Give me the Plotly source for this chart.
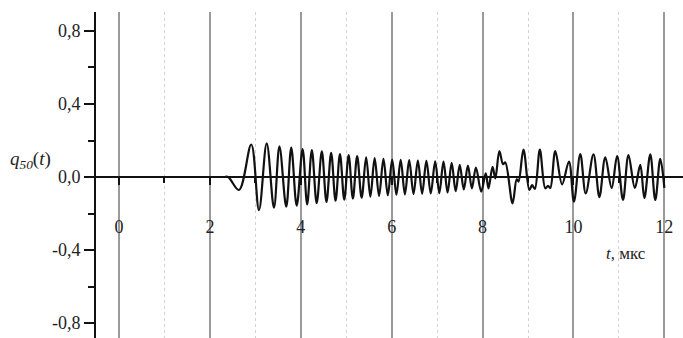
import plotly.graph_objects as go

# q50(t) response: turning points (t in microseconds, q dimensionless)
onset_t = [0.0, 2.30, 2.40, 2.64, 2.91, 3.08, 3.25, 3.41, 3.53, 3.68, 3.79, 3.91, 4.04]
onset_q = [0.0, 0.0, 0.0, -0.071, 0.178, -0.181, 0.184, -0.168, 0.168, -0.163, 0.161, -0.157, 0.153]

ring_t = [4.14, 4.243, 4.35, 4.463, 4.565, 4.668, 4.765, 4.862, 4.957, 5.053,
          5.146, 5.240, 5.339, 5.438, 5.531, 5.625, 5.722, 5.819, 5.915, 6.011,
          6.104, 6.198, 6.291, 6.385, 6.480, 6.576, 6.670, 6.764, 6.860, 6.957,
          7.048, 7.140, 7.230, 7.320, 7.408, 7.497, 7.587, 7.677, 7.765, 7.853]
ring_q = [-0.150, 0.148, -0.143, 0.140, -0.137, 0.132, -0.130, 0.125, -0.124, 0.120,
          -0.118, 0.114, -0.113, 0.108, -0.108, 0.103, -0.104, 0.099, -0.100, 0.096,
          -0.097, 0.094, -0.095, 0.092, -0.093, 0.090, -0.091, 0.088, -0.090, 0.086,
          -0.088, 0.084, -0.085, 0.078, -0.078, 0.066, -0.068, 0.062, -0.062, 0.052]

tail_t = [7.97, 8.07, 8.13, 8.22, 8.28, 8.37, 8.45, 8.50, 8.66, 8.75, 8.79, 8.90,
          9.03, 9.09, 9.15, 9.26, 9.38, 9.44, 9.49, 9.60, 9.75, 9.90, 10.01, 10.15,
          10.27, 10.44, 10.57, 10.70, 10.84, 10.96, 11.09, 11.21, 11.35, 11.47, 11.56,
          11.69, 11.80, 11.91, 12.0]
tail_q = [-0.080, 0.020, -0.062, 0.056, -0.007, 0.142, 0.070, 0.080, -0.144, -0.012, -0.025, 0.150,
          -0.071, -0.045, -0.065, 0.150, -0.062, -0.048, -0.060, 0.142, -0.040, 0.085, -0.135, 0.125,
          -0.090, 0.124, -0.110, 0.108, -0.060, 0.115, -0.126, 0.120, -0.060, 0.066, -0.115,
          0.124, -0.126, 0.100, -0.060]

t_vals = onset_t + ring_t + tail_t
q_vals = onset_q + ring_q + tail_q

x_ticks = [0, 2, 4, 6, 8, 10, 12]
x_text = ["0", "2", "4", "6", "8", "10", "12"]
y_ticks = [-0.8, -0.4, 0.0, 0.4, 0.8]
y_text = ["-0,8", "-0,4", "0,0", "0,4", "0,8"]

x_range = [-0.506, 12.41]
y_range = [-0.882, 0.904]

serif = "Liberation Serif"
ink = "#222222"

fig = go.Figure()
fig.add_trace(go.Scatter(
    x=t_vals, y=q_vals, mode="lines",
    line=dict(color="#111111", width=2.2, shape="spline", smoothing=1.0),
    showlegend=False, hoverinfo="skip",
))

zero_pos = (0 - y_range[0]) / (y_range[1] - y_range[0])

fig.update_layout(
    width=683, height=338,
    margin=dict(l=96, r=0, t=12, b=0),
    plot_bgcolor="white", paper_bgcolor="white",
    font=dict(family=serif, size=18, color=ink),
    xaxis=dict(
        range=x_range, anchor="free", position=zero_pos,
        showline=True, linecolor="#111111", linewidth=2,
        tickmode="array", tickvals=x_ticks, ticktext=x_text,
        tickfont=dict(family=serif, size=18, color=ink),
        ticks="outside", ticklen=7, tickwidth=1.5, tickcolor="#111111",
        ticklabelstandoff=26,
        showgrid=True, gridcolor="#9a9a9a", gridwidth=1.5,
        zeroline=False,
        minor=dict(dtick=1, tick0=0, ticks="outside", ticklen=5, tickwidth=1.5,
                   tickcolor="#111111", showgrid=True, gridcolor="#d2d2d2",
                   gridwidth=1.2, griddash="dot"),
    ),
    yaxis=dict(
        range=y_range,
        showline=True, linecolor="#111111", linewidth=2,
        tickmode="array", tickvals=y_ticks, ticktext=y_text,
        tickfont=dict(family=serif, size=18, color=ink),
        ticks="outside", ticklen=10, tickwidth=1.5, tickcolor="#111111",
        showgrid=False, zeroline=False,
        minor=dict(dtick=0.2, tick0=0, ticks="outside", ticklen=6, tickwidth=1.5,
                   tickcolor="#111111", showgrid=False),
    ),
)

fig.add_annotation(
    text="<i>q</i><sub><i>50</i></sub>(<i>t</i>)",
    xref="paper", yref="paper", x=-0.150, y=0.545,
    xanchor="left", yanchor="middle", showarrow=False,
    font=dict(family=serif, size=19, color=ink),
)
fig.add_annotation(
    text="<i>t</i>, мкс",
    x=11.15, y=-0.42, xref="x", yref="y",
    xanchor="center", yanchor="middle", showarrow=False,
    font=dict(family=serif, size=17, color=ink),
)

fig.write_html("out.html")
